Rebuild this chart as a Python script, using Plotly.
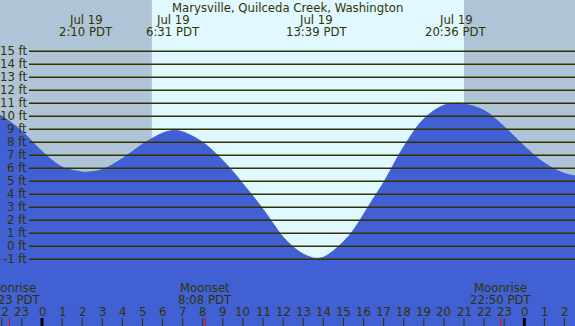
import plotly.graph_objects as go

# ---- data ----
title_text = "Marysville, Quilceda Creek, Washington"
tide_hours = [-3, -2, -1, 0, 1, 2, 2.17, 3, 4, 5, 6, 6.52, 7, 8, 9, 9.5, 10, 10.5, 11, 11.5, 12, 12.5, 13, 13.5, 13.67, 14, 14.5, 15, 15.5, 16, 16.5, 17, 18, 19, 20, 20.6, 21, 22, 23, 24, 25, 26, 27]
tide_ft = [10.7, 10.0, 8.85, 7.3, 6.1, 5.72, 5.7, 5.9, 6.75, 7.85, 8.7, 8.9, 8.8, 8.0, 6.6, 5.75, 4.8, 3.85, 2.85, 1.75, 0.7, -0.05, -0.6, -0.9, -0.92, -0.85, -0.35, 0.35, 1.25, 2.45, 3.7, 4.9, 7.65, 9.8, 10.85, 11.0, 10.95, 10.45, 9.2, 7.7, 6.4, 5.6, 5.3]

extreme_hours = [2 + 10/60, 6 + 31/60, 13 + 39/60, 20 + 36/60, 24 + 2 + 48/60]
extreme_dates = ["Jul 19", "Jul 19", "Jul 19", "Jul 19", "Jul 20"]
extreme_times = ["2:10 PDT", "6:31 PDT", "13:39 PDT", "20:36 PDT", "2:48 PDT"]

moon_hours = [-24 + 22 + 23/60, 8 + 8/60, 22 + 50/60]
moon_events = ["Moonrise", "Moonset", "Moonrise"]
moon_times = ["22:23 PDT", "8:08 PDT", "22:50 PDT"]

sunrise_h = 5 + 28/60
sunset_h = 21 + 0/60

ft_levels = list(range(-1, 16))
hour_ticks = list(range(-2, 27))
midnight_ticks = [0, 24]

# ---- style ----
W, H = 575, 326
NIGHT = "#b0c4d8"
DAY = "#e0f8ff"
BLUE = "#4060d4"
INK = "#333300"
FONT = "DejaVu Sans"
FSIZE = 11.7

px_per_hr = (524.3 - 42) / 24
x_lo = -42 / px_per_hr
x_hi = (W - 42) / px_per_hr
px_per_ft = 13.0
zero_px = 246.3
y_hi = zero_px / px_per_ft
y_lo = (zero_px - H) / px_per_ft

def ypx(p):
    return (zero_px - p) / px_per_ft

fig = go.Figure()

# baseline for fill
fig.add_trace(go.Scatter(x=[x_lo - 2, x_hi + 2], y=[y_lo - 2, y_lo - 2], mode="lines",
                         line=dict(width=0, color=BLUE), hoverinfo="skip"))
fig.add_trace(go.Scatter(x=tide_hours, y=tide_ft, mode="lines", fill="tonexty",
                         fillcolor=BLUE, line=dict(color=BLUE, width=1, shape="spline", smoothing=1.0),
                         hoverinfo="skip"))

# hour ticks
tx, ty = [], []
for h in hour_ticks:
    tx += [h, h, None]
    ty += [y_lo, ypx(318), None]
fig.add_trace(go.Scatter(x=tx, y=ty, mode="lines", line=dict(color=INK, width=1), hoverinfo="skip"))
mx, my = [], []
for h in midnight_ticks:
    mx += [h, h, None]
    my += [y_lo, ypx(318), None]
fig.add_trace(go.Scatter(x=mx, y=my, mode="lines", line=dict(color="#000000", width=3), hoverinfo="skip"))
rx, ry = [], []
for h in moon_hours:
    rx += [h, h, None]
    ry += [y_lo, ypx(318), None]
fig.add_trace(go.Scatter(x=rx, y=ry, mode="lines", line=dict(color="#ff0000", width=1), hoverinfo="skip"))

shapes = [dict(type="rect", xref="x", yref="paper", x0=sunrise_h, x1=sunset_h, y0=0, y1=1,
               fillcolor=DAY, line=dict(width=0), layer="below")]
for lv in ft_levels:
    shapes.append(dict(type="line", xref="paper", yref="y", x0=29 / W, x1=1, y0=lv, y1=lv,
                       line=dict(color=INK, width=1.5), layer="above"))

ann = []
f = dict(family=FONT, size=FSIZE, color=INK)
common = dict(showarrow=False, font=f, borderpad=0, yanchor="middle")
for lv in ft_levels:
    ann.append(dict(text=f"{lv} ft", xref="paper", yref="y", x=27.5 / W, y=lv,
                    xanchor="right", **common))
ann.append(dict(text=title_text, xref="paper", yref="y", x=0.5, y=ypx(7.5),
                xanchor="center", **common))
for h, d, t in zip(extreme_hours, extreme_dates, extreme_times):
    ann.append(dict(text=d, x=h, y=ypx(19.5), xanchor="center", **common))
    ann.append(dict(text=t, x=h, y=ypx(31.5), xanchor="center", **common))
for h, e, t in zip(moon_hours, moon_events, moon_times):
    ann.append(dict(text=e, x=h, y=ypx(287.5), xanchor="center", **common))
    ann.append(dict(text=t, x=h, y=ypx(299.5), xanchor="center", **common))
for h in hour_ticks:
    ann.append(dict(text=str(h % 24), x=h, y=ypx(311.5), xanchor="center", **common))

fig.update_layout(
    width=W, height=H, margin=dict(l=0, r=0, t=0, b=0),
    paper_bgcolor=NIGHT, plot_bgcolor=NIGHT, showlegend=False,
    xaxis=dict(range=[x_lo, x_hi], visible=False, fixedrange=True),
    yaxis=dict(range=[y_lo, y_hi], visible=False, fixedrange=True),
    shapes=shapes, annotations=ann,
)
fig.write_html("out.html", config={"displayModeBar": False},
               post_script="document.body.style.margin='0';document.body.style.overflow='hidden';")
